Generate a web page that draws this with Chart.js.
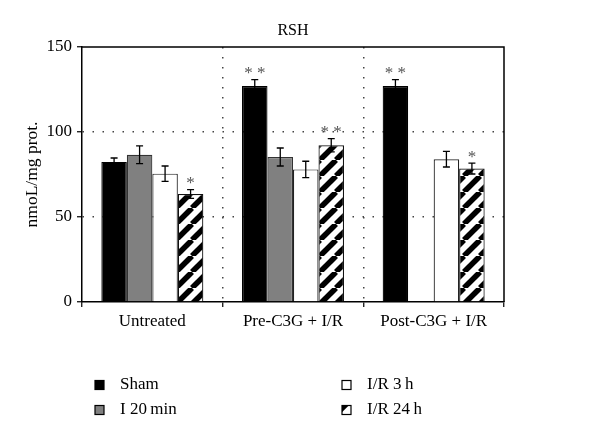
<!DOCTYPE html>
<html><head><meta charset="utf-8">
<script src="https://cdn.jsdelivr.net/npm/chart.js@4.4.1/dist/chart.umd.min.js"></script>
<style>html,body{margin:0;padding:0;background:#fff}#wrap{width:600px;height:441px}</style>
</head><body><div id="wrap"><canvas id="c" width="600" height="441"></canvas></div>
<script>
const categories = ['Untreated', 'Pre-C3G + I/R', 'Post-C3G + I/R'];
const seriesNames = ['Sham', 'I 20\u2009min', 'I/R 3\u2009h', 'I/R 24\u2009h'];
const shamValues = [82.4, 127.1, 127.1];
const i20Values  = [86.6, 85.3, null];
const ir3Values  = [75.5, 78.0, 84.0];
const ir24Values = [63.5, 92.2, 78.5];
const shamErr = [2.3, 3.7, 3.7];
const i20Err  = [5.2, 5.3, null];
const ir3Err  = [4.5, 4.8, 4.6];
const ir24Err = [2.6, 3.9, 3.2];
const shamStars = ['', '**', '**'];
const i20Stars  = ['', '', ''];
const ir3Stars  = ['', '', ''];
const ir24Stars = ['*', '**', '*'];
const yTicks = [0, 50, 100, 150];
const chartTitle = 'RSH';
const yTitle = 'nmoL/mg prot.';

const errs = [shamErr, i20Err, ir3Err, ir24Err];
const stars = [shamStars, i20Stars, ir3Stars, ir24Stars];
const FONT = "'Liberation Serif', 'Times New Roman', serif";

const canvas = document.getElementById('c');
const ctx0 = canvas.getContext('2d');
function makeHatch() {
  const s = 16;
  const c = document.createElement('canvas');
  c.width = s; c.height = s;
  const g = c.getContext('2d');
  g.fillStyle = '#fff'; g.fillRect(0, 0, s, s);
  g.strokeStyle = '#000'; g.lineWidth = 5.5;
  for (const o of [-s, 0, s]) {
    g.beginPath(); g.moveTo(o, s); g.lineTo(o + s, 0); g.stroke();
  }
  return ctx0.createPattern(c, 'repeat');
}
const hatch = makeHatch();

const fills = ['#000000', '#808080', '#ffffff', hatch];
const borders = ['#000000', '#333333', '#222222', '#111111'];

const extras = {
  id: 'extras',
  afterDatasetsDraw(chart) {
    const { ctx, chartArea: a, scales: { y } } = chart;
    ctx.save();
    ctx.strokeStyle = '#000'; ctx.lineWidth = 1.5;
    ctx.beginPath(); ctx.moveTo(a.left, a.top); ctx.lineTo(a.right, a.top); ctx.lineTo(a.right, a.bottom); ctx.stroke();
    chart.data.datasets.forEach((ds, di) => {
      const meta = chart.getDatasetMeta(di);
      meta.data.forEach((bar, i) => {
        const v = ds.data[i], e = errs[di][i];
        if (v == null || e == null) return;
        const yt = y.getPixelForValue(v + e), yb = y.getPixelForValue(v - e);
        ctx.strokeStyle = '#000'; ctx.lineWidth = 1.3;
        ctx.beginPath();
        ctx.moveTo(bar.x, yt); ctx.lineTo(bar.x, yb);
        ctx.moveTo(bar.x - 3.5, yt); ctx.lineTo(bar.x + 3.5, yt);
        ctx.moveTo(bar.x - 3.5, yb); ctx.lineTo(bar.x + 3.5, yb);
        ctx.stroke();
        const s = stars[di][i];
        if (s) {
          ctx.fillStyle = '#555';
          ctx.font = '17px ' + FONT;
          ctx.textAlign = 'center'; ctx.textBaseline = 'alphabetic';
          ctx.fillText(s.split('').join(' '), bar.x, yt - 1.5);
        }
      });
    });
    // title
    ctx.fillStyle = '#000';
    ctx.font = '16px ' + FONT;
    ctx.textAlign = 'center'; ctx.textBaseline = 'middle';
    ctx.fillText(chartTitle, (a.left + a.right) / 2, a.top - 16);
    // legend
    const pos = [[95, 385], [95, 410], [342, 385], [342, 410]];
    ctx.font = '17px ' + FONT;
    ctx.textAlign = 'left';
    seriesNames.forEach((n, k) => {
      const [lx, ly] = pos[k];
      const sz = 9;
      const x0 = lx, y0 = ly - sz / 2;
      ctx.fillStyle = k === 3 ? '#fff' : fills[k];
      ctx.fillRect(x0, y0, sz, sz);
      if (k === 3) {
        ctx.fillStyle = '#000';
        ctx.beginPath(); ctx.moveTo(x0, y0); ctx.lineTo(x0 + sz * 0.75, y0); ctx.lineTo(x0, y0 + sz * 0.75); ctx.closePath(); ctx.fill();
      }
      ctx.strokeStyle = '#000'; ctx.lineWidth = 1.2;
      ctx.strokeRect(x0, y0, sz, sz);
      ctx.fillStyle = '#000';
      ctx.fillText(n, lx + 25, ly);
    });
    ctx.restore();
  }
};

const valueLists = [shamValues, i20Values, ir3Values, ir24Values];
new Chart(canvas, {
  type: 'bar',
  data: {
    labels: categories,
    datasets: seriesNames.map((n, k) => ({
      label: n,
      data: valueLists[k],
      backgroundColor: fills[k],
      borderColor: borders[k],
      borderWidth: 1.2,
      barPercentage: 1,
      categoryPercentage: 0.725
    }))
  },
  options: {
    responsive: false,
    animation: false,
    layout: { padding: { top: 47, right: 96, left: 0, bottom: 0 } },
    plugins: { legend: { display: false }, tooltip: { enabled: false }, title: { display: false } },
    scales: {
      x: {
        offset: true,
        grid: {
          offset: true,
          color: c => (c.index === 1 || c.index === 2) ? '#444' : 'rgba(0,0,0,0)',
          lineWidth: 1.5,
          tickColor: '#000', tickLength: 5, tickBorderDash: [], tickWidth: 1.2
        },
        border: { display: true, color: '#000', width: 1.5, dash: [1.5, 8.5] },
        ticks: { font: { family: FONT, size: 17 }, color: '#000', padding: 4, maxRotation: 0, autoSkip: false },
        afterFit(s) { s.height = 139; }
      },
      y: {
        min: 0, max: 150,
        afterBuildTicks(s) { s.ticks = yTicks.map(v => ({ value: v })); },
        grid: {
          color: c => (c.tick && (c.tick.value === 50 || c.tick.value === 100)) ? '#444' : 'rgba(0,0,0,0)',
          lineWidth: 1.5,
          tickColor: '#000', tickLength: 5, tickBorderDash: [], tickWidth: 1.2
        },
        border: { display: true, color: '#000', width: 1.5, dash: [1.5, 8.5] },
        ticks: { font: { family: FONT, size: 17 }, color: '#000', padding: 5 },
        title: { display: true, text: yTitle, font: { family: FONT, size: 17.5 }, color: '#000', padding: { top: 22, bottom: 0 } },
        afterFit(s) { s.width = 82; }
      }
    }
  },
  plugins: [extras]
});
</script>
</body></html>
